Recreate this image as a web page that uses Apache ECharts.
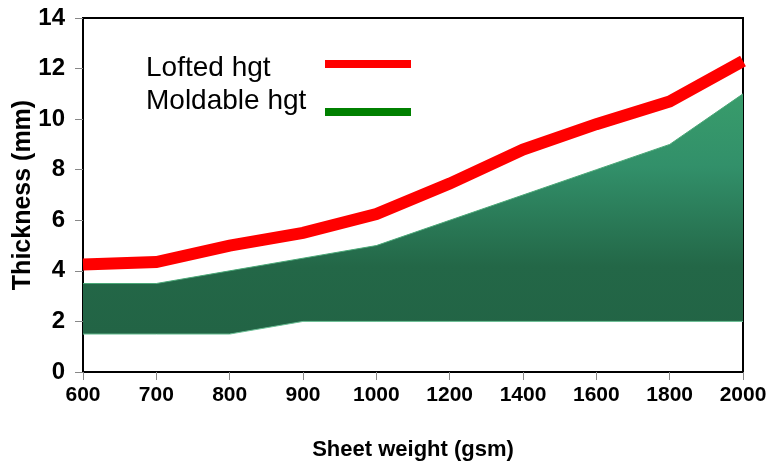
<!DOCTYPE html>
<html><head><meta charset="utf-8">
<script src="https://cdn.jsdelivr.net/npm/echarts@6/dist/echarts.min.js"></script>
<style>html,body{margin:0;padding:0;background:#fff}#c{width:773px;height:462px}</style>
</head><body><div id="c"></div>
<script>
const categories = ['600','700','800','900','1000','1200','1400','1600','1800','2000'];
const loftedHgt = [4.25, 4.35, 5.0, 5.5, 6.25, 7.45, 8.8, 9.8, 10.7, 12.3];
const moldableLow = [1.5, 1.5, 1.5, 2.0, 2.0, 2.0, 2.0, 2.0, 2.0, 2.0];
const moldableHigh = [3.5, 3.5, 4.0, 4.5, 5.0, 6.0, 7.0, 8.0, 9.0, 11.0];
const yTicks = {min: 0, max: 14, interval: 2};

const bandWidth = moldableHigh.map((v, i) => v - moldableLow[i]);
const chart = echarts.init(document.getElementById('c'), null, {renderer: 'canvas'});
const sansBold = {fontFamily: 'Liberation Sans, Arial, sans-serif', fontWeight: 'bold', color: '#000'};

chart.setOption({
  animation: false,
  backgroundColor: '#fff',
  grid: {left: 83, right: 30, top: 18, bottom: 90, show: true, borderColor: '#000', borderWidth: 2,
         backgroundColor: 'transparent', outerBoundsMode: 'none', containLabel: false},
  legend: [
    {
      orient: 'vertical', left: 136, top: 48, selectedMode: false,
      itemWidth: 0, itemHeight: 0, itemGap: 3, icon: 'none',
      textStyle: {fontFamily: 'Liberation Sans, Arial, sans-serif', fontSize: 28, lineHeight: 30, color: '#000'},
      data: ['Lofted hgt', 'Moldable hgt']
    },
    {
      orient: 'vertical', left: 320, top: 55, selectedMode: false,
      itemWidth: 86, itemHeight: 8, itemGap: 40,
      formatter: () => '',
      textStyle: {fontSize: 1, lineHeight: 8},
      data: [
        {name: 'Lofted hgt', icon: 'rect', itemStyle: {color: '#ff0000', borderWidth: 0}},
        {name: 'Moldable hgt', icon: 'rect', itemStyle: {color: '#008000', borderWidth: 0}}
      ]
    }
  ],
  xAxis: {
    type: 'category', data: categories, boundaryGap: false,
    axisLine: {show: true, lineStyle: {color: '#000', width: 2}},
    axisTick: {show: true, alignWithLabel: true, length: 8, lineStyle: {color: '#888', width: 1}},
    axisLabel: Object.assign({fontSize: 21, margin: 13, interval: 0}, sansBold),
    name: 'Sheet weight (gsm)', nameLocation: 'middle', nameGap: 67, nameMoveOverlap: false,
    nameTextStyle: Object.assign({fontSize: 22}, sansBold),
    splitLine: {show: false}
  },
  yAxis: {
    type: 'value', min: yTicks.min, max: yTicks.max, interval: yTicks.interval,
    axisLine: {show: true, lineStyle: {color: '#000', width: 2}},
    axisTick: {show: true, length: 8, lineStyle: {color: '#888', width: 1}},
    axisLabel: Object.assign({fontSize: 24, margin: 18}, sansBold),
    name: 'Thickness (mm)', nameLocation: 'middle', nameGap: 47, nameMoveOverlap: false,
    nameTextStyle: Object.assign({fontSize: 25}, sansBold),
    splitLine: {show: false}
  },
  series: [
    {
      name: 'Moldable low', type: 'line', stack: 'band', data: moldableLow,
      symbol: 'none', silent: true,
      lineStyle: {color: '#6cc096', width: 1}
    },
    {
      name: 'Moldable hgt', type: 'line', stack: 'band', data: bandWidth,
      symbol: 'none', silent: true,
      lineStyle: {color: '#4aa877', width: 1},
      itemStyle: {color: '#008000'},
      areaStyle: {
        opacity: 1,
        color: new echarts.graphic.LinearGradient(0, 0, 0, 1, [
          {offset: 0, color: '#389c6b'},
          {offset: 0.3, color: '#32906a'},
          {offset: 0.72, color: '#236747'},
          {offset: 1, color: '#226445'}
        ])
      }
    },
    {
      name: 'Lofted hgt', type: 'line', data: loftedHgt,
      symbol: 'none', silent: true, z: 5,
      lineStyle: {color: '#ff0000', width: 12, cap: 'butt', join: 'miter'},
      itemStyle: {color: '#ff0000'}
    }
  ]
});
</script>
</body></html>
